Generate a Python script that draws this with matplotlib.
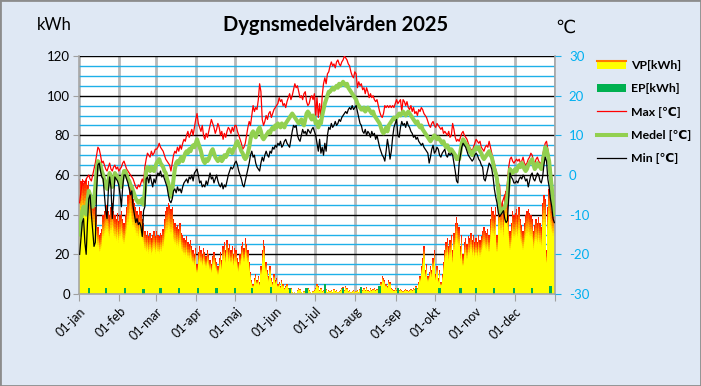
import numpy as np
import matplotlib
matplotlib.use("Agg")
import matplotlib.pyplot as plt
from matplotlib.colors import LinearSegmentedColormap
from matplotlib.patches import Rectangle, Patch
from matplotlib.lines import Line2D
from matplotlib.legend_handler import HandlerBase
from matplotlib.transforms import ScaledTranslation

plt.rcParams['font.family'] = ['Lato', 'DejaVu Sans']
plt.rcParams['axes.unicode_minus'] = False

# ---------------- data (daily values 2025) ----------------
MONTH_LABELS = ["01-jan", "01-feb", "01-mar", "01-apr", "01-maj", "01-jun",
                "01-jul", "01-aug", "01-sep", "01-okt", "01-nov", "01-dec"]
MONTH_DAYS = [31, 28, 31, 30, 31, 30, 31, 31, 30, 31, 30, 31]

vp_jan = [58, 57, 58, 56, 57, 58, 55, 57, 52, 50, 48, 46, 44, 40, 34, 30, 31, 33, 40, 42, 44, 45, 42, 40, 44, 46, 42, 40, 38, 41, 37]
vp_feb = [40, 42, 38, 36, 40, 44, 50, 54, 56, 52, 48, 46, 44, 42, 40, 44, 42, 38, 36, 32, 30, 32, 29, 31, 28, 30, 32, 29]
vp_mar = [32, 30, 29, 31, 30, 33, 38, 42, 44, 46, 45, 43, 44, 38, 36, 34, 35, 33, 36, 31, 30, 28, 27, 29, 26, 25, 27, 24, 22, 20, 23]
vp_apr = [15, 21, 24, 22, 20, 23, 21, 19, 22, 20, 17, 15, 19, 21, 18, 16, 14, 18, 21, 17, 24, 26, 22, 27, 23, 25, 22, 24, 20, 23]
vp_may = [22, 18, 16, 20, 24, 26, 23, 28, 25, 22, 16, 11, 7, 5, 8, 10, 7, 9, 6, 14, 22, 27, 24, 16, 12, 9, 14, 8, 6, 10, 7]
vp_jun = [8, 5, 6, 4, 7, 5, 3, 4, 5, 3, 2, 3, 1, 0.5, 1, 0.5, 2, 3, 2.5, 1, 0.5, 1.5, 1, 2, 3, 2, 1, 0.5, 1.5, 2]
vp_jul = [3, 5, 4, 2, 3, 1.5, 2, 4, 2.5, 1, 2, 1.5, 2, 1, 2.5, 1.5, 2, 1, 1.5, 2, 3, 3.5, 2, 4, 3, 1.5, 2, 1, 1.5, 2, 1]
vp_aug = [1.5, 2, 1, 2.5, 1.5, 2, 3, 2, 3.5, 2, 1.5, 3, 2, 2.5, 3, 2, 2.5, 3, 4, 6, 9, 8, 7, 5, 4, 7, 6, 3, 2.5, 2, 3]
vp_sep = [2, 3, 2, 2.5, 2, 1.5, 2, 2.5, 2, 1.5, 2, 2.5, 2, 3, 2.5, 4, 3, 6, 9, 14, 18, 24, 12, 15, 9, 11, 14, 12, 18, 22]
vp_oct = [10, 14, 8, 12, 6, 10, 16, 22, 26, 28, 24, 27, 30, 22, 31, 36, 39, 36, 34, 24, 30, 20, 26, 28, 25, 29, 28, 31, 27, 30, 26]
vp_nov = [28, 26, 30, 27, 29, 32, 34, 32, 31, 33, 30, 38, 44, 42, 40, 44, 30, 45, 47, 44, 46, 41, 50, 52, 46, 40, 32, 36, 42, 40]
vp_dec = [41, 43, 40, 44, 38, 35, 32, 36, 40, 42, 43, 41, 40, 38, 32, 35, 38, 36, 39, 36, 34, 46, 50, 48, 22, 44, 53, 48, 45, 42, 40]

ep_day = [7, 20, 35, 49, 62, 76, 91, 105, 119, 132, 147, 161, 174, 188, 202, 216, 230, 244, 258, 276, 292, 304, 318, 333, 347, 361]
ep_kwh = [3, 3, 3, 2.5, 3, 3, 3, 3, 3, 3, 3.5, 3, 3, 5, 3, 3.5, 4, 3, 3, 3, 3, 3, 3, 3, 3, 4]

max_jan = [-7, -4, -2, -1.5, -2, -1, -0.5, 0, -1, -1.5, 0, 1.5, 3, 5, 7, 6.5, 5, 3, 3.5, 2.5, 1.5, 1, 2, 3, 1.5, 1, 2, 2.5, 1.5, 2, 1]
max_feb = [1.5, 2, 3, 3.5, 2.5, 1.5, 1, 0.5, 0, -0.5, -1, -2, -3, -3.5, -2.5, -3, -2, -1, -2, 2, 4, 5.5, 5, 4.5, 6, 5, 5.5, 6.5]
max_mar = [6.5, 7, 8, 7, 6.5, 6, 5, 4, 3.5, 3, 2.5, 1, 3, 5, 6, 5.5, 7, 6, 7.5, 6.5, 8, 9, 8.5, 10, 11, 9.5, 10.5, 11.5, 10, 12, 14]
max_apr = [15.5, 13, 12, 11, 12.5, 10, 9, 10.5, 9.5, 11, 12.5, 14, 13, 12, 10.5, 11.5, 13, 12, 10, 11, 9, 10.5, 9.5, 11, 12, 11.5, 10.5, 12, 11, 12.5]
max_may = [12.5, 11, 10, 9, 8, 6.5, 7, 8, 10, 12, 13.5, 12.5, 15, 17.5, 16, 17, 16.5, 19, 23, 21, 14, 12.5, 13.5, 15, 14, 15.5, 16, 14.5, 15.5, 16.5, 17]
max_jun = [17.5, 18, 19.5, 18.5, 19, 17.5, 18, 17, 18.5, 19.5, 20.5, 19, 20, 21.5, 23, 22, 22.5, 21, 19.5, 20, 19, 20.5, 21, 18.5, 17.5, 18, 19.5, 20, 19, 20.5]
max_jul = [15, 19.5, 14.5, 18, 14, 20, 23, 24.5, 23, 25.5, 26, 27.5, 28.5, 27.5, 28, 27, 28.5, 29, 28, 27.5, 28.5, 29, 30, 29.5, 29, 28, 27.5, 26, 25, 24.5, 26]
max_aug = [25.5, 22, 23.5, 22.5, 23, 21.5, 22, 20.5, 22, 21, 19.5, 20.5, 19.5, 20, 19, 18.5, 19, 17.5, 16, 15, 14.5, 15.5, 17.5, 17, 17.5, 17, 17.5, 17, 17.5, 17, 18]
max_sep = [19, 18, 18.5, 19, 16, 19, 18.5, 17.5, 18.5, 17, 16.5, 17.5, 16, 17, 15.5, 16, 15, 16.5, 16, 17, 16.5, 15.5, 15, 14.5, 13.5, 12.5, 12, 13, 13.5, 12.5]
max_oct = [12, 13, 12.5, 12, 11.5, 12, 10.5, 11, 10.5, 10, 11, 9.5, 10, 13, 11.5, 9.5, 8.5, 9, 8.5, 9.5, 10.5, 11, 10, 9.5, 9, 8, 7, 6.5, 6, 7, 8]
max_nov = [9, 8.5, 8, 8.5, 7, 6.5, 6, 7, 7.5, 7, 8.5, 7, 5.5, 4, 3, 1.5, 0, -2, -2.5, -8.5, -7, -6, -5, -4.5, -2, 2, 4, 4.5, 3.5, 3]
max_dec = [3.5, 4, 3.5, 4, 3, 3.5, 4.5, 3, 2.5, 3, 4, 4.5, 5.5, 5, 3.5, 3, 4, 4.5, 3.5, 3, 3, 5, 6.5, 8, 8.5, 6.5, 4.5, 2, -1, -7, -9]

medel_jan = [-15, -12, -9, -8, -9, -10, -7, -4, -5, -7, -8, -7, -3, 1, 3.5, 3, 2.5, 1, 0, -1.5, -3, -3.5, -1.5, 0.5, -1, -3, -1.5, 0.5, 0, -0.5, -1]
medel_feb = [-2, -3, -0.5, 1, 1, 0, -1, -1.5, -2.5, -3, -4, -5, -6, -6.5, -7, -6.5, -7, -6, -7.5, -4, 1, 2, 1.5, 1, 2, 1.5, 1, 2]
medel_mar = [3, 3.5, 4, 3, 2.5, 2, 1, 0.5, -1, -2, -4, -5.5, -4, -1, 1.5, 3, 3.5, 3, 4, 4.5, 3.5, 4.5, 5.5, 6, 5.5, 6.5, 6, 7, 7.5, 7, 8]
medel_apr = [9, 8, 7, 6, 4.5, 3.5, 3, 4, 3.5, 4, 5, 6, 6.5, 5.5, 4.5, 4, 3.5, 4, 4.5, 3.5, 4, 5, 4.5, 5, 6, 6.5, 6, 5.5, 6.5, 7]
medel_may = [8, 8.5, 7.5, 7, 6, 5.5, 4.5, 4, 4.5, 5.5, 7, 9, 10.5, 11, 10, 9.5, 10.5, 11.5, 12, 11, 9.5, 9, 9.5, 10, 10.5, 11, 10.5, 11.5, 12, 11.5, 12.5]
medel_jun = [12, 13, 12.5, 12, 13, 12.5, 12, 13, 13.5, 14, 14.5, 15, 15.5, 15, 14.5, 14, 13.5, 13, 13.5, 14, 13, 12.5, 14, 15.5, 16, 15.5, 14.5, 14, 15, 14.5]
medel_jul = [13, 13.5, 12, 13.5, 13, 15, 16.5, 18, 19, 20, 21, 21, 21.5, 22, 21.5, 22, 22.5, 22, 23, 22.5, 23, 23.5, 23, 22.5, 23, 22, 21.5, 21, 20.5, 20, 19.5]
medel_aug = [19, 18, 17.5, 17, 16.5, 16.5, 17, 16, 16.5, 17, 16.5, 16, 15.5, 16, 15, 14.5, 14, 13.5, 13, 12, 11, 10.5, 11, 12, 11, 12.5, 13, 13.5, 14, 14.5, 14]
medel_sep = [14.5, 15, 15.5, 15, 15.5, 16, 15.5, 15, 15.5, 16, 15.5, 15, 14.5, 14, 13.5, 13, 13.5, 12.5, 12, 12.5, 11.5, 11, 10.5, 10, 9.5, 9, 8.5, 9, 9.5, 10]
medel_oct = [9.5, 9, 9.5, 9, 8.5, 8, 8.5, 7.5, 7, 7.5, 6.5, 6, 6.5, 6, 5.5, 5, 4, 4.5, 4, 6, 8, 9, 8.5, 8, 7.5, 7, 6, 5.5, 5, 6, 6.5]
medel_nov = [7, 6.5, 7, 6, 5.5, 4.5, 4, 4.5, 5, 5.5, 6, 5, 4.5, 3, 1.5, 0.5, -1, -4, -8, -9.5, -9, -8.5, -8, -7, -5.5, -2, 1.5, 1, 0.5, 1]
medel_dec = [1.5, 1, 2, 2.5, 2, 3, 2.5, 1.5, 1, 1.5, 2.5, 3, 3.5, 4, 2.5, 1.5, 2, 3, 2.5, 2, 1.5, 3, 5, 7, 6.5, 5, 3.5, 0, -3, -8, -10]

min_jan = [-20, -16, -12, -11, -17, -20, -12, -6, -5, -10, -14, -18, -17, -4, 2.5, 3, 1, -0.5, -1, -5, -9, -11, -4, -0.5, -3, -11, -6, -0.5, -1, -1.5, -2.5]
min_feb = [-5, -8, -3, 0, 0, -1, -2, -3.5, -5, -4, -8, -10, -12, -11, -12.5, -12, -13, -15.5, -9, -8, -1, -0.5, -2, 0, -1.5, -3, -1, -2]
min_mar = [-0.5, 0.5, 0, 1, -0.5, 0, -1, -2, -3, -5, -6.5, -7, -6, -4, -3.5, -4.5, -3, -4, -3.5, -4.5, -3, -2, -1.5, -1, -2, -0.5, -1, 0, -1.5, 0.5, 1]
min_apr = [1.5, 0, -2, -1.5, -3, -2.5, -3, -1.5, -2.5, -1, 0.5, -1, -0.5, -2, -1, 0, -1.5, -2.5, -3, -2, -3.5, -2.5, -3, -1.5, 0, 1, 2, 1.5, 2, 3]
min_may = [3.5, 2.5, 1, 0, -1, -2.5, -3, -1.5, 0, 1.5, 3, 5, 6, 4.5, 5, 3, 2, 1.5, 1, 3, 4.5, 3.5, 5, 6, 5, 4.5, 6, 5.5, 7, 6.5, 7.5]
min_jun = [7, 8, 7.5, 8.5, 7, 7.5, 8.5, 9, 8, 7.5, 7, 9, 11, 12.5, 12, 12.5, 10, 9, 8.5, 10, 11.5, 10.5, 11, 10, 11.5, 11, 10.5, 11.5, 12, 11]
min_jul = [10, 8, 6, 9, 5.5, 7, 5, 8, 6, 10, 12, 11.5, 13, 12, 12.5, 13.5, 12.5, 13, 14, 13.5, 14.5, 15, 15.5, 16, 15.5, 16.5, 17, 16.5, 17.5, 16.5, 17]
min_aug = [17.5, 16, 14.5, 13, 12.5, 11, 10.5, 11.5, 10, 11, 10.5, 9.5, 11, 10, 10.5, 9, 10, 8.5, 7, 6, 5, 4.5, 3.5, 6, 9, 7, 4, 6, 9.5, 12, 13]
min_sep = [14, 10, 9.5, 12, 13.5, 12.5, 13, 12, 13.5, 12.5, 12, 11, 10.5, 9.5, 10, 9, 9.5, 8.5, 8, 7.5, 8, 7, 6.5, 6, 5.5, 3, 4.5, 6.5, 7.5, 5.5]
min_oct = [6, 7, 6.5, 5, 4.5, 5.5, 6, 6.5, 5, 4.5, 5.5, 5, 5.5, 5, 3, 1, -1.5, -2, 3, 5, 7, 8, 7.5, 7, 6, 5, 4.5, 4, 3.5, 4, 5]
min_nov = [5.5, 5, 4, 3.5, 2.5, 2, -1, -1.5, 0, 1.5, 3, 2.5, 1.5, -0.5, -3.5, -5.5, -7, -9.5, -10.5, -10, -9.5, -9, -11, -12, -11.5, -6, 0.5, -0.5, -1, -2]
min_dec = [-2, -1.5, -2, -1, -0.5, -1, 0, -0.5, -1.5, -1, -3, -1.5, 0, 0.5, -1, -1.5, -0.5, 0.5, 0, -1.5, -2, -0.5, 2.5, 4.5, 3.5, -1, -3, -6, -8, -11, -12]

# ---------------- assemble ----------------
def join(*parts):
    out = []
    for p in parts:
        out += p
    return np.array(out, dtype=float)

VP = join(vp_jan, vp_feb, vp_mar, vp_apr, vp_may, vp_jun, vp_jul, vp_aug, vp_sep, vp_oct, vp_nov, vp_dec)
TMAX = join(max_jan, max_feb, max_mar, max_apr, max_may, max_jun, max_jul, max_aug, max_sep, max_oct, max_nov, max_dec)
TMED = join(medel_jan, medel_feb, medel_mar, medel_apr, medel_may, medel_jun, medel_jul, medel_aug, medel_sep, medel_oct, medel_nov, medel_dec)
TMIN = join(min_jan, min_feb, min_mar, min_apr, min_may, min_jun, min_jul, min_aug, min_sep, min_oct, min_nov, min_dec)
ndays = sum(MONTH_DAYS)
EP = np.zeros(ndays)
EP[ep_day] = ep_kwh

x = np.arange(ndays) + 0.5
month_start = np.concatenate([[0], np.cumsum(MONTH_DAYS)[:-1]])

BG = '#dfe8f4'
CYAN = '#1fb0e8'
fig = plt.figure(figsize=(7.01, 3.86), dpi=100, facecolor=BG)
ax = fig.add_axes([79/701, 1-294/386, 476/701, 238/386])
ax.set_facecolor('white')
ax.set_xlim(0, ndays)
ax.set_ylim(0, 120)
ax.set_axisbelow(True)

ax.set_yticks(np.arange(0, 121, 20))
ax.set_yticks(np.arange(0, 121, 5), minor=True)
ax.yaxis.grid(True, which='minor', color=CYAN, lw=1.0)
ax.yaxis.grid(True, which='major', color='black', lw=1.0)
ax.set_xticks(list(month_start) + [ndays])
ax.set_xticklabels(MONTH_LABELS + [''], rotation=45, ha='right', va='top',
                   rotation_mode='anchor', fontsize=9)
ax.xaxis.grid(True, which='major', color='#b8b8b8', lw=2.0)
for lab in ax.get_xticklabels():
    lab.set_transform(lab.get_transform() + ScaledTranslation(5/100, 0, fig.dpi_scale_trans))
ax.tick_params(axis='x', which='major', direction='out', length=5, color='#a0a0a0', pad=3)
ax.tick_params(axis='y', which='major', direction='out', length=4, color='#a0a0a0', pad=2.5, labelsize=9.5)
ax.tick_params(axis='y', which='minor', length=0)
for s in ['left', 'right', 'bottom']:
    ax.spines[s].set_color('#a6a6a6')
    ax.spines[s].set_linewidth(1.2)
ax.spines['top'].set_visible(False)

# VP bars with a vertical gradient at the top of every bar
cmap = LinearSegmentedColormap.from_list('vp', ['#ffff00', '#ffb000', '#ff5000', '#ff1000'])
base = 0.70
ax.bar(x, VP * base, width=1.0, color='#ffff00', linewidth=0, antialiased=False)
N = 10
for k in range(N):
    lo = base + (1 - base) * k / N
    hi = base + (1 - base) * (k + 1) / N
    ax.bar(x, VP * (hi - lo), bottom=VP * lo, width=1.0, color=cmap((k + 0.5) / N),
           linewidth=0, antialiased=False)
ax.bar(x, EP, width=1.7, color='#00b050', linewidth=0)

ax2 = ax.twinx()
ax2.set_ylim(-30, 30)
ax2.set_yticks(np.arange(-30, 31, 10))
ax2.tick_params(axis='y', direction='out', length=4, color=CYAN, labelcolor='#00b0f0',
                labelsize=9.5, pad=6)
for s in ax2.spines.values():
    s.set_visible(False)
ax2.plot(x, TMAX, color='#ff0000', lw=0.9)
ax2.plot(x, TMED, color='#92d050', lw=2.9, solid_joinstyle='round')
ax2.plot(x, TMIN, color='black', lw=0.9)

fig.text(54/701, 1-25/386, 'kWh', fontsize=12, ha='center', va='center')
fig.text(336/701, 1-25/386, 'Dygnsmedelvärden 2025', fontsize=14.5, fontweight='bold',
         ha='center', va='center')
fig.text(565/701, 1-28/386, '℃', fontsize=13, ha='center', va='center',
         family=['DejaVu Sans'])


class HandlerVP(HandlerBase):
    def create_artists(self, legend, orig_handle, xdescent, ydescent, width, height,
                       fontsize, trans):
        y0 = -ydescent
        r = Rectangle((-xdescent, y0), width, height, facecolor='#ffff00',
                      edgecolor='none', transform=trans)
        l = Line2D([-xdescent, -xdescent + width], [y0 + height, y0 + height],
                   color='#ff7a00', lw=1.5, transform=trans)
        return [r, l]


vp_handle = Patch(facecolor='#ffff00')
handles = [vp_handle, Patch(facecolor='#00b050'),
           Line2D([], [], color='#ff0000', lw=0.9),
           Line2D([], [], color='#92d050', lw=2.9),
           Line2D([], [], color='black', lw=0.9)]
labels = ['VP[kWh]', 'EP[kWh]', 'Max [℃]', 'Medel [℃]', 'Min [℃]']
fig.legend(handles, labels, loc='upper left', bbox_to_anchor=(597/701, 1-60/386),
           frameon=False, prop={'weight': 'bold', 'size': 8.8},
           handlelength=2.35, handleheight=0.65, handletextpad=0.45, labelspacing=1.0,
           borderpad=0, borderaxespad=0, handler_map={vp_handle: HandlerVP()})

fig.patches.append(Rectangle((0, 0), 1, 1, transform=fig.transFigure, fill=False,
                             edgecolor='#8c8c8c', lw=2))
fig.savefig('out.png', dpi=100, facecolor=fig.get_facecolor())
